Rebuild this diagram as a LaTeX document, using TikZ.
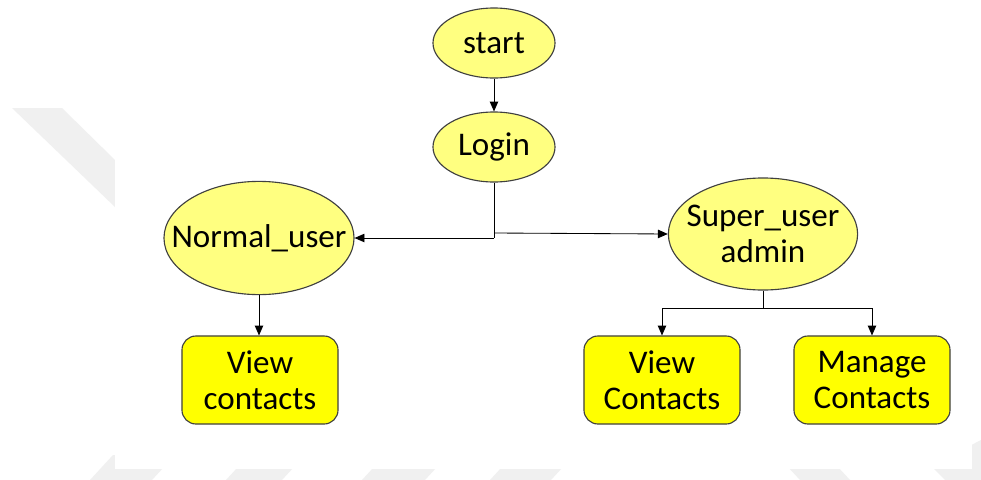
\documentclass[tikz,border=0pt]{standalone}
\usepackage{fontspec}
\setmainfont{Carlito}
\usetikzlibrary{shapes.geometric,arrows.meta}

\definecolor{paleyellow}{HTML}{FFFF80}
\definecolor{brightyellow}{HTML}{FFFF00}
\definecolor{outline}{HTML}{404040}
\definecolor{mark}{HTML}{F0F0F0}

\tikzset{
  labelfont/.style={font=\fontsize{23.5}{25.6}\selectfont},
  state/.style={ellipse, draw=outline, fill=paleyellow, line width=0.8pt,
    inner sep=0pt},
  statetext/.style={label={[labelfont, align=center, inner sep=0pt]center:#1}},
  task/.style={rectangle, rounded corners=0.35cm, draw=outline, fill=brightyellow,
    line width=0.8pt, minimum width=3.9cm, minimum height=2.2cm, inner sep=0pt,
    align=center, labelfont},
  flow/.style={draw=black, line width=0.6pt},
  flowarrow/.style={flow, -{Triangle[length=7pt,width=6pt]}},
  watermark/.style={fill=mark, draw=none}
}

\begin{document}
\begin{tikzpicture}[x=0.025cm, y=-0.025cm]
  % page
  \useasboundingbox (0,0) rectangle (981,480);
  \fill[white] (0,0) rectangle (981,480);

  % faint background marks behind the white sheet
  \path[watermark] (12,108) -- (62,108) -- (115,160) -- (115,207) -- cycle;
  \path[watermark] (90,480) -- (113,455) -- (175,455) -- (152,480) -- cycle;
  \path[watermark] (226,480) -- (249,455) -- (305,455) -- (282,480) -- cycle;
  \path[watermark] (362,480) -- (385,455) -- (448,455) -- (425,480) -- cycle;
  \path[watermark] (490,480) -- (513,455) -- (574,455) -- (551,480) -- cycle;
  \path[watermark] (787,466) -- (837,466) -- (850,480) -- (800,480) -- cycle;
  \path[watermark] (931,466) -- (981,440) -- (981,480) -- (945,480) -- cycle;
  \fill[white] (115,0) rectangle (972,469);

  % nodes
  \node[state, minimum width=3.05cm, minimum height=1.75cm, statetext={start}] (start) at (494,43) {};
  \node[state, minimum width=3.05cm, minimum height=1.75cm, statetext={Login}] (login) at (494,147) {};
  \node[state, minimum width=4.75cm, minimum height=2.83cm, statetext={Normal\_user}] (normal) at (259,238) {};
  \node[state, minimum width=4.73cm, minimum height=2.8cm, statetext={Super\_user\\admin}] (super) at (763,234) {};
  \node[task] (viewn) at (260,380) {View\\contacts};
  \node[task] (views) at (662,380) {View\\Contacts};
  \node[task] (manage) at (872,380) {Manage\\Contacts};

  % junction points
  \coordinate (jl) at (494,238);
  \coordinate (jr) at (494,233);
  \coordinate (js) at (763,308);

  % connectors
  \draw[flowarrow] (start) -- (login);
  \draw[flow] (login.south) -- (jl);
  \draw[flowarrow] (jl) -- (normal.east);
  \draw[flowarrow] (jr) -- (super.west);
  \draw[flowarrow] (normal.south) -- (normal.south |- viewn.north);
  \draw[flow] (super.south) -- (js);
  \draw[flowarrow] (js) -| (views.north);
  \draw[flowarrow] (js) -| (manage.north);
\end{tikzpicture}
\end{document}
